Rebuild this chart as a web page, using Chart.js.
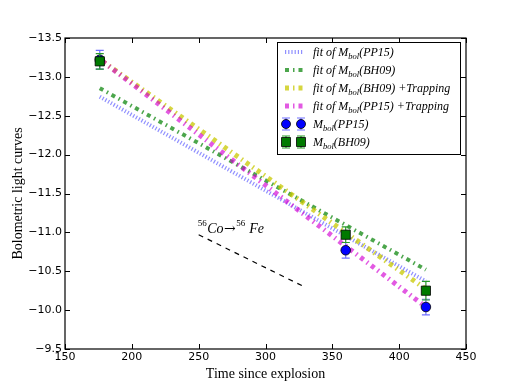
<!DOCTYPE html>
<html>
<head>
<meta charset="utf-8">
<script src="https://cdn.jsdelivr.net/npm/chart.js@4/dist/chart.umd.min.js"></script>
<style>body{margin:0;background:#fff}</style>
</head>
<body>
<canvas id="grafico" width="518" height="388"></canvas>
<script>
// Observações (dias desde a explosão)
var diasObs = [176, 360, 420];
var mbolPP15 = [-13.22, -10.77, -10.04];
var errPP15 = [0.12, 0.1, 0.1];
var mbolBH09 = [-13.2, -10.97, -10.25];
var errBH09 = [0.1, 0.1, 0.12];

// Ajustes
var diasAjuste = [176, 420];
var ajustePP15 = [-12.745, -10.37];
var ajusteBH09 = [-12.855, -10.52];
var diasTrapping = [178, 420];
var ajusteBH09Trap = [-13.2, -10.27];
var ajustePP15Trap = [-13.2, -10.04];

// Reta do decaimento Co -> Fe
var diasCo = [250, 329];
var mbolCo = [-10.97, -10.3];

var ticksX = [150, 200, 250, 300, 350, 400, 450];
var ticksY = [-13.5, -13.0, -12.5, -12.0, -11.5, -11.0, -10.5, -10.0, -9.5];

function pontos(xs, ys) {
    return xs.map(function (x, i) { return { x: x, y: ys[i] }; });
}

function menos(v) {
    return String(v).replace('-', '\u2212');
}

var AZUL = '#0000ff', VERDE = '#007a00';
var estilos = {
    pp15: { cor: 'rgba(70,70,255,0.6)', largura: 4, traco: [1.2, 2] },
    bh09: { cor: 'rgba(0,128,0,0.7)', largura: 4, traco: [4, 4, 1.5, 4] },
    bh09t: { cor: 'rgba(200,200,0,0.75)', largura: 5, traco: [4, 4, 1.5, 4] },
    pp15t: { cor: 'rgba(210,0,210,0.65)', largura: 5, traco: [4, 4, 1.5, 4] }
};

function linhaAjuste(xs, ys, e) {
    return {
        type: 'line', data: pontos(xs, ys), borderColor: e.cor, borderWidth: e.largura,
        borderDash: e.traco, borderCapStyle: 'butt', pointRadius: 0, fill: false
    };
}

var erros = [errBH09, errPP15];
var corErro = ['#2a9a2a', '#7070ff'];

function barraErro(ctx, px, py0, py1, cor) {
    ctx.save();
    ctx.strokeStyle = cor;
    ctx.lineWidth = 1.2;
    ctx.beginPath();
    ctx.moveTo(px, py0); ctx.lineTo(px, py1);
    ctx.moveTo(px - 4, py0); ctx.lineTo(px + 4, py0);
    ctx.moveTo(px - 4, py1); ctx.lineTo(px + 4, py1);
    ctx.stroke();
    ctx.restore();
}

var pluginErros = {
    id: 'erros',
    beforeDatasetDraw: function (chart, args) {
        if (args.index > 1) return;
        var sx = chart.scales.x, sy = chart.scales.y;
        var ds = chart.data.datasets[args.index];
        ds.data.forEach(function (p, i) {
            var e = erros[args.index][i];
            barraErro(chart.ctx, sx.getPixelForValue(p.x), sy.getPixelForValue(p.y - e),
                sy.getPixelForValue(p.y + e), corErro[args.index]);
        });
    }
};

var pluginMoldura = {
    id: 'moldura',
    afterDatasetsDraw: function (chart) {
        var ctx = chart.ctx, a = chart.chartArea;
        var sx = chart.scales.x, sy = chart.scales.y;
        ctx.save();
        ctx.strokeStyle = '#000';
        ctx.lineWidth = 1;
        ctx.beginPath();
        ticksX.forEach(function (t) {
            var px = Math.round(sx.getPixelForValue(t)) + 0.5;
            ctx.moveTo(px, a.bottom); ctx.lineTo(px, a.bottom - 5);
            ctx.moveTo(px, a.top); ctx.lineTo(px, a.top + 5);
        });
        ticksY.forEach(function (t) {
            var py = Math.round(sy.getPixelForValue(t)) + 0.5;
            ctx.moveTo(a.left, py); ctx.lineTo(a.left + 5, py);
            ctx.moveTo(a.right, py); ctx.lineTo(a.right - 5, py);
        });
        ctx.stroke();
        ctx.lineWidth = 1.2;
        ctx.strokeRect(a.left, a.top, a.right - a.left, a.bottom - a.top);

        // texto 56Co -> 56Fe
        var x = sx.getPixelForValue(diasCo[0]) - 1;
        var y = sy.getPixelForValue(mbolCo[0]) - 1.5;
        ctx.fillStyle = '#000';
        ctx.textBaseline = 'alphabetic';
        var partes = [
            ['9px "Liberation Serif"', '56', -7],
            ['italic 14px "Liberation Serif"', 'Co', 0],
            ['14px "DejaVu Serif"', '\u2192', 0],
            ['9px "Liberation Serif"', '56', -7],
            ['italic 14px "Liberation Serif"', ' Fe', 0]
        ];
        partes.forEach(function (p) {
            ctx.font = p[0];
            ctx.fillText(p[1], x, y + p[2]);
            x += ctx.measureText(p[1]).width + 0.5;
        });
        ctx.restore();
    }
};

var itensLegenda = [
    { tipo: 'linha', e: estilos.pp15, antes: 'fit of M', depois: '(PP15)' },
    { tipo: 'linha', e: estilos.bh09, antes: 'fit of M', depois: '(BH09)' },
    { tipo: 'linha', e: estilos.bh09t, antes: 'fit of M', depois: '(BH09) +Trapping' },
    { tipo: 'linha', e: estilos.pp15t, antes: 'fit of M', depois: '(PP15) +Trapping' },
    { tipo: 'circulo', antes: 'M', depois: '(PP15)' },
    { tipo: 'quadrado', antes: 'M', depois: '(BH09)' }
];

var pluginLegenda = {
    id: 'legendaMpl',
    afterDraw: function (chart) {
        var ctx = chart.ctx;
        var bx = 277.5, by = 42.5, bw = 183, bh = 112;
        ctx.save();
        ctx.fillStyle = '#fff';
        ctx.fillRect(bx, by, bw, bh);
        ctx.strokeStyle = '#000';
        ctx.lineWidth = 1;
        ctx.strokeRect(bx, by, bw, bh);
        itensLegenda.forEach(function (it, i) {
            var y = 52 + i * 18;
            if (it.tipo === 'linha') {
                ctx.save();
                ctx.strokeStyle = it.e.cor;
                ctx.lineWidth = it.e.largura;
                ctx.setLineDash(it.e.traco);
                ctx.beginPath();
                ctx.moveTo(285, y); ctx.lineTo(303, y);
                ctx.stroke();
                ctx.restore();
            } else {
                [286, 301].forEach(function (mx) {
                    barraErro(ctx, mx, y - 6, y + 6, it.tipo === 'circulo' ? corErro[1] : corErro[0]);
                    ctx.beginPath();
                    ctx.strokeStyle = '#000';
                    ctx.lineWidth = 0.8;
                    if (it.tipo === 'circulo') {
                        ctx.fillStyle = AZUL;
                        ctx.arc(mx, y, 4.5, 0, Math.PI * 2);
                    } else {
                        ctx.fillStyle = VERDE;
                        ctx.rect(mx - 4.5, y - 4.5, 9, 9);
                    }
                    ctx.fill();
                    ctx.stroke();
                });
            }
            var tx = 313, base = y + 4;
            ctx.fillStyle = '#000';
            ctx.font = 'italic 12px "Liberation Serif"';
            ctx.fillText(it.antes, tx, base);
            tx += ctx.measureText(it.antes).width;
            ctx.font = 'italic 8.5px "Liberation Serif"';
            ctx.fillText('bol', tx, base + 3);
            tx += ctx.measureText('bol').width;
            ctx.font = 'italic 12px "Liberation Serif"';
            ctx.fillText(it.depois, tx, base);
        });
        ctx.restore();
    }
};

var ctx = document.getElementById('grafico').getContext('2d');
var grafico = new Chart(ctx, {
    type: 'scatter',
    data: {
        datasets: [
            {
                data: pontos(diasObs, mbolBH09), pointStyle: 'rect', pointRadius: 6.5,
                backgroundColor: VERDE, borderColor: '#000', borderWidth: 0.8, showLine: false
            },
            {
                data: pontos(diasObs, mbolPP15), pointStyle: 'circle', pointRadius: 4.8,
                backgroundColor: AZUL, borderColor: '#000', borderWidth: 0.8, showLine: false
            },
            {
                type: 'line', data: pontos(diasCo, mbolCo), borderColor: '#000', borderWidth: 1.2,
                borderDash: [5, 5], pointRadius: 0, fill: false
            },
            linhaAjuste(diasTrapping, ajustePP15Trap, estilos.pp15t),
            linhaAjuste(diasTrapping, ajusteBH09Trap, estilos.bh09t),
            linhaAjuste(diasAjuste, ajusteBH09, estilos.bh09),
            linhaAjuste(diasAjuste, ajustePP15, estilos.pp15)
        ]
    },
    options: {
        responsive: false,
        animation: false,
        layout: { padding: { left: 0, right: 52, top: 38, bottom: 0 } },
        plugins: { legend: { display: false }, tooltip: { enabled: false } },
        scales: {
            x: {
                type: 'linear', min: 150, max: 450,
                grid: { display: false, drawTicks: false },
                border: { display: false },
                afterBuildTicks: function (s) { s.ticks = ticksX.map(function (v) { return { value: v }; }); },
                afterFit: function (s) { s.height = 39; },
                ticks: { color: '#000', padding: 2, font: { family: 'DejaVu Sans', size: 11 }, maxRotation: 0 },
                title: {
                    display: true, text: 'Time since explosion', color: '#000',
                    font: { family: 'Liberation Serif', size: 14 }, padding: { top: 5, bottom: 5 }
                }
            },
            y: {
                type: 'linear', min: -13.5, max: -9.5, reverse: true,
                grid: { display: false, drawTicks: false },
                border: { display: false },
                afterBuildTicks: function (s) { s.ticks = ticksY.map(function (v) { return { value: v }; }); },
                afterFit: function (s) { s.width = 65; },
                ticks: {
                    color: '#000', padding: 3, font: { family: 'DejaVu Sans', size: 11 },
                    callback: function (v) { return menos(v.toFixed(1)); }
                },
                title: {
                    display: true, text: 'Bolometric light curves', color: '#000',
                    font: { family: 'Liberation Serif', size: 14 }, padding: { top: 10, bottom: 10 }
                }
            }
        }
    },
    plugins: [pluginErros, pluginMoldura, pluginLegenda]
});
</script>
</body>
</html>
